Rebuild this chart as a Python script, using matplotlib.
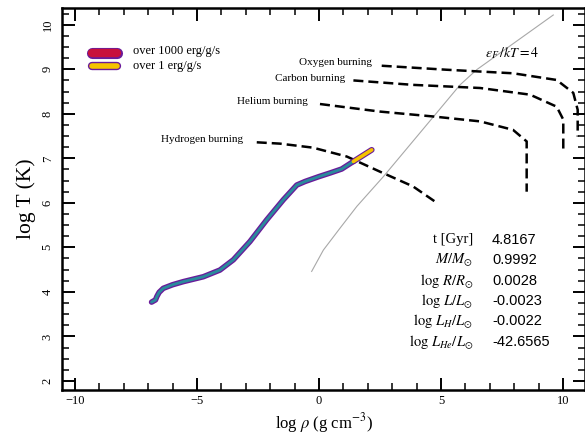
import matplotlib
matplotlib.use("Agg")
import matplotlib.pyplot as plt
from matplotlib.ticker import MultipleLocator

plt.rcParams['font.family'] = ['Liberation Serif', 'DejaVu Serif']
plt.rcParams['mathtext.fontset'] = 'stix'

# ---- data ----
track_logrho = [-6.86, -6.70, -6.64, -6.55, -6.38, -6.00, -5.56, -4.74, -4.06, -3.51,
                -2.83, -2.14, -1.46, -0.91, -0.57, 0.00, 0.45, 0.93, 1.41]
track_logT = [3.77, 3.82, 3.90, 3.99, 4.08, 4.16, 4.23, 4.34, 4.49, 4.72,
              5.13, 5.62, 6.07, 6.40, 6.48, 6.59, 6.67, 6.76, 6.93]
hot_logrho = [1.41, 2.16]
hot_logT = [6.93, 7.19]

degen_logrho = [-0.30, 0.18, 0.86, 1.55, 2.64, 4.82, 5.78, 6.46, 9.60]
degen_logT = [4.46, 4.94, 5.43, 5.92, 6.59, 8.02, 8.65, 8.99, 10.22]

h_rho = [-2.55, -1.60, -0.25, 1.14, 2.50, 3.85, 4.75]
h_T = [7.36, 7.33, 7.24, 7.04, 6.70, 6.37, 6.03]
he_rho = [0.04, 2.50, 4.68, 6.60, 7.95, 8.51, 8.51]
he_T = [8.22, 8.05, 7.94, 7.83, 7.64, 7.38, 6.25]
c_rho = [1.41, 3.86, 6.60, 8.65, 9.74, 10.01, 10.01]
c_T = [8.75, 8.65, 8.58, 8.43, 8.16, 7.87, 7.12]
o_rho = [2.57, 5.23, 7.96, 9.74, 10.42, 10.60, 10.60]
o_T = [9.08, 8.99, 8.91, 8.76, 8.47, 8.09, 7.49]

burn_labels = ['Hydrogen burning', 'Helium burning', 'Carbon burning', 'Oxygen burning']
burn_label_pos = [(-3.11, 7.42), (-0.45, 8.28), (1.09, 8.79), (2.18, 9.16)]

info_labels = ['t [Gyr]', r'$M/M_{\odot}$', r'$\log\,R/R_{\odot}$', r'$\log\,L/L_{\odot}$',
               r'$\log\,L_H/L_{\odot}$', r'$\log\,L_{He}/L_{\odot}$']
info_values = ['4.8167', '0.9992', '0.0028', '-0.0023', '-0.0022', '-42.6565']

legend_labels = ['over 1000 erg/g/s', 'over 1 erg/g/s']

purple = '#6a1b9a'
teal = '#2a8a9c'
red = '#c8103c'
yellow = '#f5c400'

fig = plt.figure(figsize=(5.85, 4.37), dpi=100)
ax = fig.add_axes([0.106, 0.108, 0.894, 0.874])
ax.set_xlim(-10.53, 10.9)
ax.set_ylim(1.8, 10.38)

# degeneracy line
ax.plot(degen_logrho, degen_logT, color='#a8a8a8', lw=0.8, zorder=1)
ax.text(7.9, 9.37, r'$\epsilon_F\,/kT=4$', fontsize=10, ha='center', va='center', zorder=2)

# burning lines
for xs, ys in [(h_rho, h_T), (he_rho, he_T), (c_rho, c_T), (o_rho, o_T)]:
    ax.plot(xs, ys, color='black', lw=1.8, ls=(0, (4, 2)), zorder=3)
for lab, (x, y) in zip(burn_labels, burn_label_pos):
    ax.text(x, y, lab, fontsize=8, ha='right', va='center')

# track
ax.plot(track_logrho, track_logT, color=purple, lw=4.0, solid_capstyle='round',
        solid_joinstyle='round', zorder=4)
ax.plot(track_logrho, track_logT, color=teal, lw=2.1, solid_capstyle='round',
        solid_joinstyle='round', zorder=5)
ax.plot(hot_logrho, hot_logT, color=purple, lw=4.2, solid_capstyle='round', zorder=4)
ax.plot(hot_logrho, hot_logT, color=yellow, lw=2.6, solid_capstyle='round', zorder=6)

# legend (manual)
ax.plot([0.058, 0.106], [0.882, 0.882], transform=ax.transAxes, color=purple, lw=8,
        solid_capstyle='round')
ax.plot([0.058, 0.106], [0.882, 0.882], transform=ax.transAxes, color=red, lw=6,
        solid_capstyle='round')
ax.plot([0.058, 0.106], [0.849, 0.849], transform=ax.transAxes, color=purple, lw=6,
        solid_capstyle='round')
ax.plot([0.058, 0.106], [0.849, 0.849], transform=ax.transAxes, color=yellow, lw=4,
        solid_capstyle='round')
ax.text(0.135, 0.886, legend_labels[0], transform=ax.transAxes, fontsize=9, va='center')
ax.text(0.135, 0.849, legend_labels[1], transform=ax.transAxes, fontsize=9, va='center')

# info block
for i, (lab, val) in enumerate(zip(info_labels, info_values)):
    y = 0.393 - i * 0.0535
    ax.text(0.786, y, lab, transform=ax.transAxes, fontsize=10.5, ha='right', va='center')
    ax.text(0.822, y, val, transform=ax.transAxes, fontsize=10.5, ha='left', va='center',
            family=['Liberation Sans', 'DejaVu Sans'])

# axes styling
ax.xaxis.set_major_locator(MultipleLocator(5))
ax.xaxis.set_minor_locator(MultipleLocator(1))
ax.yaxis.set_major_locator(MultipleLocator(1))
ax.yaxis.set_minor_locator(MultipleLocator(0.25))
ax.tick_params(which='both', direction='in', top=True, right=True)
ax.tick_params(which='major', length=9, width=1.4, labelsize=9)
ax.tick_params(which='minor', length=5, width=1.1)
ax.tick_params(axis='y', labelrotation=90, pad=6)
for lab in ax.get_yticklabels():
    lab.set_va('center')
for sp in ax.spines.values():
    sp.set_linewidth(1.8)

ax.set_xlabel(r'log $\rho$ (g cm$^{-3}$)', fontsize=12, labelpad=3)
ax.set_ylabel('log T (K)', fontsize=15.5, labelpad=4)

fig.savefig('out.png', dpi=100)
